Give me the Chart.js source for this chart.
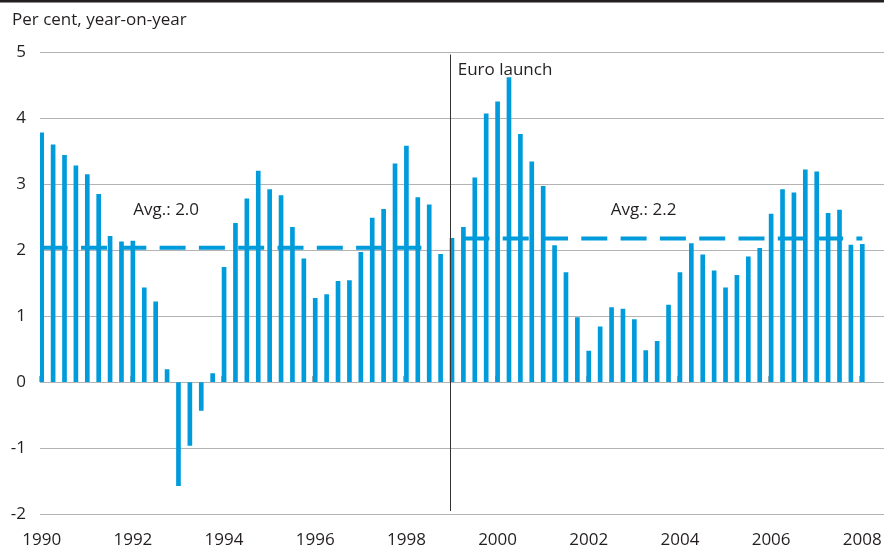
<!DOCTYPE html>
<html>
<head>
<meta charset="utf-8">
<script src="https://cdn.jsdelivr.net/npm/chart.js@4.4.1/dist/chart.umd.min.js"></script>
<style>
  html, body { margin: 0; padding: 0; background: #ffffff; }
  canvas { display: block; }
</style>
</head>
<body>
<canvas id="chart" width="884" height="551"></canvas>
<script>
// ---------------- DATA ----------------
const yAxisTitle = 'Per cent, year-on-year';

// Quarterly categories 1990Q1 .. 2008Q1
const categories = [];
for (let yr = 1990; yr <= 2007; yr++) {
  for (let q = 1; q <= 4; q++) categories.push(yr + 'Q' + q);
}
categories.push('2008Q1');

// Inflation, per cent year-on-year
const inflation = [
  3.78, 3.60, 3.44, 3.28,   // 1990
  3.15, 2.85, 2.21, 2.13,   // 1991
  2.14, 1.43, 1.22, 0.19,   // 1992
  -1.57, -0.96, -0.43, 0.13,// 1993
  1.74, 2.41, 2.78, 3.20,   // 1994
  2.92, 2.83, 2.35, 1.87,   // 1995
  1.27, 1.33, 1.53, 1.54,   // 1996
  1.97, 2.49, 2.62, 3.31,   // 1997
  3.58, 2.80, 2.69, 1.94,   // 1998
  2.18, 2.35, 3.10, 4.07,   // 1999
  4.25, 4.62, 3.76, 3.34,   // 2000
  2.97, 2.07, 1.66, 0.98,   // 2001
  0.47, 0.84, 1.13, 1.11,   // 2002
  0.95, 0.48, 0.62, 1.17,   // 2003
  1.66, 2.10, 1.93, 1.69,   // 2004
  1.43, 1.62, 1.90, 2.03,   // 2005
  2.55, 2.92, 2.87, 3.22,   // 2006
  3.19, 2.56, 2.61, 2.08,   // 2007
  2.09                      // 2008
];

// Average lines: [from category, to category], value
const avgPeriod1 = ['1990Q1', '1998Q3'];
const avgValue1 = 2.04;
const avgPeriod2 = ['1999Q2', '2008Q1'];
const avgValue2 = 2.18;

// Axis ticks
const xTickYears = [1990, 1992, 1994, 1996, 1998, 2000, 2002, 2004, 2006, 2008];
const yTicks = [-2, -1, 0, 1, 2, 3, 4, 5];

// Event marker and annotation texts (positions in data units)
const euroLaunchX = 1998.96;
const annotations = [
  { text: 'Euro launch', x: 1999.125, y: 4.66 },
  { text: 'Avg.: 2.0',   x: 1992.01,  y: 2.53 },
  { text: 'Avg.: 2.2',   x: 2002.48,  y: 2.53 }
];

// ---------------- HELPERS ----------------
function catToX(c) {
  const yr = parseInt(c.slice(0, 4), 10);
  const q = parseInt(c.slice(5), 10);
  return yr + (q - 1) / 4;
}

const BLUE = '#009bdb';
const TEXT = '#231f20';
const GRID = '#b3b3b3';
const FONT = '"Open Sans", "Noto Sans", sans-serif';
const FSIZE = 17;

const barData = categories.map((c, i) => ({ x: catToX(c), y: inflation[i] }));
const avg1Data = avgPeriod1.map(c => ({ x: catToX(c), y: avgValue1 }));
const avg2Data = avgPeriod2.map(c => ({ x: catToX(c), y: avgValue2 }));

const decor = {
  id: 'decor',
  beforeDatasetsDraw(chart) {
    const { ctx, scales: { x, y } } = chart;
    const y0 = Math.round(y.getPixelForValue(0));
    ctx.save();
    ctx.strokeStyle = '#a8a8a8';
    ctx.lineWidth = 1;
    xTickYears.forEach(v => {
      const px = Math.round(x.getPixelForValue(v)) - 2.5;
      ctx.beginPath();
      ctx.moveTo(px, y0);
      ctx.lineTo(px, y0 - 6);
      ctx.stroke();
    });
    ctx.restore();
  },
  afterDatasetsDraw(chart) {
    const { ctx, chartArea, scales: { x, y } } = chart;
    ctx.save();
    // Euro launch vertical line
    const vx = Math.round(x.getPixelForValue(euroLaunchX)) + 0.5;
    ctx.strokeStyle = '#333333';
    ctx.lineWidth = 1;
    ctx.beginPath();
    ctx.moveTo(vx, chartArea.top + 2);
    ctx.lineTo(vx, chartArea.bottom - 3);
    ctx.stroke();
    // Annotations
    ctx.fillStyle = TEXT;
    ctx.font = FSIZE + 'px ' + FONT;
    ctx.textAlign = 'left';
    ctx.textBaseline = 'alphabetic';
    annotations.forEach(a => {
      ctx.fillText(a.text, x.getPixelForValue(a.x), y.getPixelForValue(a.y));
    });
    ctx.restore();
  },
  afterDraw(chart) {
    const { ctx } = chart;
    ctx.save();
    ctx.fillStyle = TEXT;
    ctx.fillRect(0, 0, chart.width, 2.5);
    ctx.font = FSIZE + 'px ' + FONT;
    ctx.textAlign = 'left';
    ctx.textBaseline = 'alphabetic';
    ctx.fillText(yAxisTitle, 12, 24.5);
    ctx.restore();
  }
};

// x range so that 1990Q1 and 2008Q1 land where they sit in the picture
const xMin = 1989.9627;
const xMax = 2008.476;

new Chart(document.getElementById('chart'), {
  type: 'bar',
  data: {
    datasets: [
      {
        type: 'line',
        data: avg1Data,
        borderColor: BLUE,
        borderWidth: 4,
        borderDash: [26, 13.3],
        borderCapStyle: 'butt',
        pointRadius: 0,
        fill: false,
        order: 0
      },
      {
        type: 'line',
        data: avg2Data,
        borderColor: BLUE,
        borderWidth: 4,
        borderDash: [26, 13.3],
        borderCapStyle: 'butt',
        pointRadius: 0,
        fill: false,
        order: 0
      },
      {
        type: 'bar',
        data: barData,
        backgroundColor: BLUE,
        borderWidth: 0,
        barThickness: 4,
        order: 1
      }
    ]
  },
  options: {
    responsive: false,
    animation: false,
    devicePixelRatio: 1,
    events: [],
    layout: { padding: { top: 52.5, left: 0, right: 0, bottom: 0 } },
    plugins: {
      legend: { display: false },
      tooltip: { enabled: false },
      title: { display: false }
    },
    scales: {
      x: {
        type: 'linear',
        min: xMin,
        max: xMax,
        offset: false,
        grid: { display: false, drawTicks: false },
        border: { display: false },
        afterBuildTicks: s => { s.ticks = xTickYears.map(v => ({ value: v })); },
        afterFit: s => { s.height = 37; s.paddingLeft = 0; s.paddingRight = 0; },
        ticks: {
          autoSkip: false,
          maxRotation: 0,
          padding: 16,
          color: TEXT,
          font: { family: FONT, size: FSIZE },
          callback: v => String(v)
        }
      },
      y: {
        type: 'linear',
        min: -2,
        max: 5,
        afterBuildTicks: s => { s.ticks = yTicks.map(v => ({ value: v })); },
        afterFit: s => { s.width = 40; s.paddingTop = 0; s.paddingBottom = 0; },
        grid: { color: GRID, lineWidth: 1, drawTicks: false },
        border: { display: false },
        ticks: {
          padding: 14,
          color: TEXT,
          font: { family: FONT, size: FSIZE },
          callback: v => String(v)
        }
      }
    }
  },
  plugins: [decor]
});
</script>
</body>
</html>
